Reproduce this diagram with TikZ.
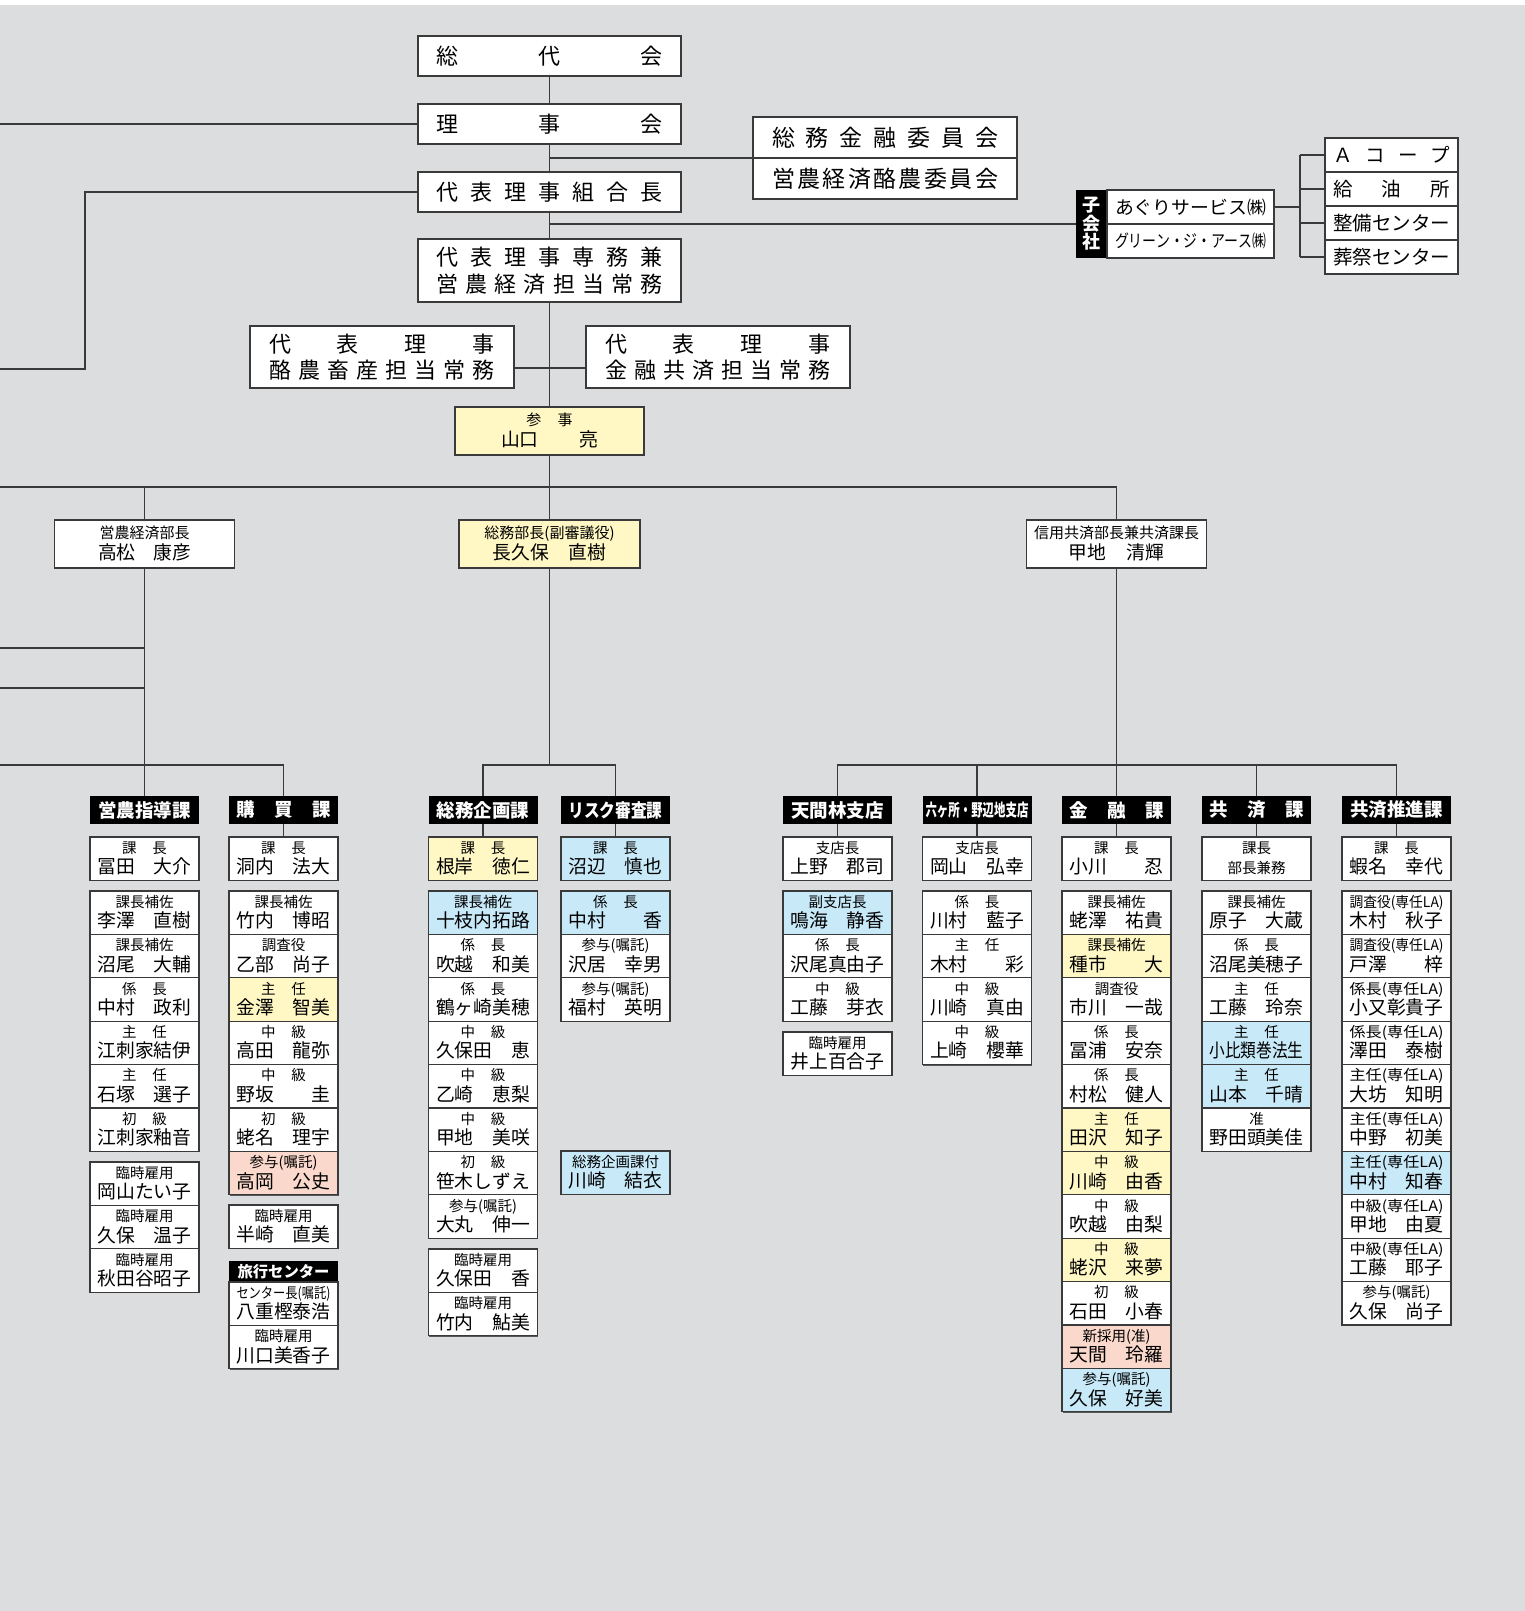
\documentclass[tikz,border=0pt]{standalone}
\usepackage{fontspec}
\usepackage{graphicx}
\setmainfont{Noto Sans CJK JP}
\usetikzlibrary{calc,shadows}
\definecolor{bg}{HTML}{DCDDDF}
\definecolor{lc}{HTML}{3A3A3A}
\definecolor{cy}{HTML}{FFF8C4}
\definecolor{cb}{HTML}{C8E9F8}
\definecolor{cp}{HTML}{FAD8CB}
\newcommand\xtf{\fontsize{14.5}{15}\selectfont}
\newcommand\xnf{\fontsize{18.8}{19}\selectfont}
\newcommand\xtpf{\fontsize{22}{22}\selectfont}
\newcommand\xhdf{\fontsize{18.5}{19}\selectfont\bfseries}
\newcommand\xsp[2]{#1\hspace{1.1em}#2}
\newcommand\xnm[2]{#1\hfill #2}
\newcommand\xone[1]{\hfil #1\hfil}
\newcommand\xsq[1]{\resizebox{94pt}{\height}{#1}}
\newcommand\xrc[2]{\vbox{\baselineskip=20.5pt\lineskiplimit=-30pt\lineskip=0pt
  \hbox to 94pt{\vrule height 12.5pt width 0pt\hfil\xtf #1\hfil}%
  \hbox to 94pt{\vrule depth 3pt width 0pt\xnf #2}}}
\newcommand\xmc[4]{\vbox{\baselineskip=21pt\lineskiplimit=-30pt\lineskip=0pt
  \hbox to #1{\vrule height 12.5pt width 0pt\hfil\fontsize{15}{15}\selectfont #2\hfil}%
  \hbox to #1{\vrule depth 3pt width 0pt\hfil\xnf\hbox to #3{#4}\hfil}}}
\def\mysprd#1{\mysprdA#1\relax}
\def\mysprdA#1{\ifx\relax#1\else#1\expandafter\mysprdC\fi}
\def\mysprdC#1{\ifx\relax#1\else\hfill#1\expandafter\mysprdC\fi}
\begin{document}
\begin{tikzpicture}[x=1pt,y=-1pt,
 conn/.style={draw=lc, line width=1.3pt},
 bx/.style={draw=lc, line width=1.3pt, fill=white, inner sep=0pt, outer sep=0pt,
   general shadow={fill=lc!85, shadow xshift=0.9pt, shadow yshift=-0.9pt}},
 tbox/.style={bx, minimum width=263pt, minimum height=40pt, font=\xtpf},
 rbox/.style={bx, minimum width=109pt, minimum height=43.4pt, anchor=north},
 hdr/.style={fill=black, text=white, inner sep=0pt, outer sep=0pt, minimum width=109pt, minimum height=28pt, anchor=north, font=\xhdf},
 mbox/.style={bx, minimum width=180pt, minimum height=48pt},
 cbox/.style={bx, minimum width=264pt, minimum height=41pt, font=\fontsize{23}{23}\selectfont},
 yel/.style={fill=cy}, blu/.style={fill=cb}, pnk/.style={fill=cp}]
\useasboundingbox (0,0) rectangle (1525,1611);
\fill[white] (0,0) rectangle (1525,1611);
\fill[bg] (0,5) rectangle (1525,1611);
% ---------- top chain
\node[tbox] (sodai) at (549.5,56) {\hbox to 226pt{\mysprd{総代会}}};
\node[tbox] (rijikai) at (549.5,124) {\hbox to 226pt{\mysprd{理事会}}};
\node[tbox] (kumiai) at (549.5,192) {\hbox to 226pt{\mysprd{代表理事組合長}}};
\node[tbox, minimum height=63pt] (senmu) at (549.5,270.5) {\vbox{\baselineskip=27pt\lineskiplimit=-30pt\hbox to 226pt{\mysprd{代表理事専務兼}}\hbox to 226pt{\mysprd{営農経済担当常務}}}};
\node[tbox, minimum width=264pt, minimum height=62pt] (rakuno) at (382,357) {\vbox{\baselineskip=26pt\lineskiplimit=-30pt\hbox to 226pt{\mysprd{代表理事}}\hbox to 226pt{\mysprd{酪農畜産担当常務}}}};
\node[tbox, minimum width=264pt, minimum height=62pt] (kinyu) at (718,357) {\vbox{\baselineskip=26pt\lineskiplimit=-30pt\hbox to 226pt{\mysprd{代表理事}}\hbox to 226pt{\mysprd{金融共済担当常務}}}};
\node[mbox, yel, minimum width=189pt] (sanji) at (549.5,431) {\xmc{180pt}{参\hspace{1.1em}事}{97pt}{\xnm{山口}{亮}}};
% committees
\node[cbox] (iin1) at (885,137.5) {\hbox to 226pt{\mysprd{総務金融委員会}}};
\node[cbox] (iin2) at (885,178.5) {\hbox to 226pt{\mysprd{営農経済酪農委員会}}};
% subsidiaries
\node[fill=black, text=white, inner sep=0pt, outer sep=0pt, minimum width=31pt, minimum height=68pt, font=\fontsize{18}{18}\selectfont\bfseries] (kog) at (1091.5,224) {\vbox{\baselineskip=18.5pt\lineskiplimit=-30pt\hbox{子}\hbox{会}\hbox{社}}};
\node[bx, minimum width=167pt, minimum height=34pt] (comp1) at (1190.5,207) {\resizebox{151pt}{\height}{\fontsize{18.5}{18.5}\selectfont あぐりサービス㈱}};
\node[bx, minimum width=167pt, minimum height=34pt] (comp2) at (1190.5,241) {\resizebox{151pt}{\height}{\fontsize{17.5}{17.5}\selectfont グリーン・ジ・アース㈱}};
\node[bx, minimum width=133pt, minimum height=34pt, font=\fontsize{19.5}{19.5}\selectfont] (rb1) at (1391.5,155) {\hbox to 117pt{\mysprd{Ａコープ}}};
\node[bx, minimum width=133pt, minimum height=34pt, font=\fontsize{19.5}{19.5}\selectfont] (rb2) at (1391.5,189) {\hbox to 117pt{\mysprd{給油所}}};
\node[bx, minimum width=133pt, minimum height=34pt, font=\fontsize{19.5}{19.5}\selectfont] (rb3) at (1391.5,223) {\hbox to 117pt{\hfil 整備センター\hfil}};
\node[bx, minimum width=133pt, minimum height=34pt, font=\fontsize{19.5}{19.5}\selectfont] (rb4) at (1391.5,257) {\hbox to 117pt{\hfil 葬祭センター\hfil}};
% department heads
\node[mbox] (eino) at (144.5,544) {\xmc{170pt}{営農経済部長}{93pt}{\xnm{高松}{康彦}}};
\node[mbox, yel, minimum width=181pt] (soumu) at (549.5,544) {\xmc{170pt}{総務部長(副審議役)}{114pt}{\xnm{長久保}{直樹}}};
\node[mbox] (shinyo) at (1116.5,544) {\xmc{170pt}{信用共済部長兼共済課長}{96pt}{\xnm{甲地}{清輝}}};
% ---------- column 1
\node[hdr] (h1) at (144.5,796) {営農指導課};
\node[rbox] (c1a) at (144.5,837) {\xrc{\xsp{課}{長}}{\xnm{冨田}{大介}}};
\node[rbox] (c1b1) at (144.5,891) {\xrc{課長補佐}{\xnm{李澤}{直樹}}};
\node[rbox] (c1b2) at (c1b1.south) {\xrc{課長補佐}{\xnm{沼尾}{大輔}}};
\node[rbox] (c1b3) at (c1b2.south) {\xrc{\xsp{係}{長}}{\xnm{中村}{政利}}};
\node[rbox] (c1b4) at (c1b3.south) {\xrc{\xsp{主}{任}}{\xone{江刺家結伊}}};
\node[rbox] (c1b5) at (c1b4.south) {\xrc{\xsp{主}{任}}{\xnm{石塚}{選子}}};
\node[rbox] (c1b6) at (c1b5.south) {\xrc{\xsp{初}{級}}{\xone{江刺家釉音}}};
\node[rbox] (c1c1) at (144.5,1162) {\xrc{臨時雇用}{\xone{岡山たい子}}};
\node[rbox] (c1c2) at (c1c1.south) {\xrc{臨時雇用}{\xnm{久保}{温子}}};
\node[rbox] (c1c3) at (c1c2.south) {\xrc{臨時雇用}{\xone{秋田谷昭子}}};
% ---------- column 2
\node[hdr] (h2) at (283.5,796) {\hbox to 94pt{\mysprd{購買課}}};
\node[rbox] (c2a) at (283.5,837) {\xrc{\xsp{課}{長}}{\xnm{洞内}{法大}}};
\node[rbox] (c2b1) at (283.5,891) {\xrc{課長補佐}{\xnm{竹内}{博昭}}};
\node[rbox] (c2b2) at (c2b1.south) {\xrc{調査役}{\xnm{乙部}{尚子}}};
\node[rbox, yel] (c2b3) at (c2b2.south) {\xrc{\xsp{主}{任}}{\xnm{金澤}{智美}}};
\node[rbox] (c2b4) at (c2b3.south) {\xrc{\xsp{中}{級}}{\xnm{高田}{龍弥}}};
\node[rbox] (c2b5) at (c2b4.south) {\xrc{\xsp{中}{級}}{\xnm{野坂}{圭}}};
\node[rbox] (c2b6) at (c2b5.south) {\xrc{\xsp{初}{級}}{\xnm{蛯名}{理宇}}};
\node[rbox, pnk] (c2b7) at (c2b6.south) {\xrc{参与(嘱託)}{\xnm{高岡}{公史}}};
\node[rbox] (c2c1) at (283.5,1205) {\xrc{臨時雇用}{\xnm{半崎}{直美}}};
\node[hdr, minimum height=21pt, font=\fontsize{15.3}{15.3}\selectfont\bfseries] (ryo) at (283.5,1261) {旅行センター};
\node[rbox] (c2d1) at (ryo.south) {\xrc{\xsq{センター長(嘱託)}}{\xone{八重樫泰浩}}};
\node[rbox] (c2d2) at (c2d1.south) {\xrc{臨時雇用}{\xone{川口美香子}}};
% ---------- column 3
\node[hdr] (h3) at (483,796) {総務企画課};
\node[rbox, yel] (c3a) at (483,837) {\xrc{\xsp{課}{長}}{\xnm{根岸}{徳仁}}};
\node[rbox, blu] (c3b1) at (483,891) {\xrc{課長補佐}{\xone{十枝内拓路}}};
\node[rbox] (c3b2) at (c3b1.south) {\xrc{\xsp{係}{長}}{\xnm{吹越}{和美}}};
\node[rbox] (c3b3) at (c3b2.south) {\xrc{\xsp{係}{長}}{\xone{鶴ヶ崎美穂}}};
\node[rbox] (c3b4) at (c3b3.south) {\xrc{\xsp{中}{級}}{\xnm{久保田}{恵}}};
\node[rbox] (c3b5) at (c3b4.south) {\xrc{\xsp{中}{級}}{\xnm{乙崎}{恵梨}}};
\node[rbox] (c3b6) at (c3b5.south) {\xrc{\xsp{中}{級}}{\xnm{甲地}{美咲}}};
\node[rbox] (c3b7) at (c3b6.south) {\xrc{\xsp{初}{級}}{\xone{笹木しずえ}}};
\node[rbox] (c3b8) at (c3b7.south) {\xrc{参与(嘱託)}{\xnm{大丸}{伸一}}};
\node[rbox] (c3c1) at (483,1249) {\xrc{臨時雇用}{\xnm{久保田}{香}}};
\node[rbox] (c3c2) at (c3c1.south) {\xrc{臨時雇用}{\xnm{竹内}{鮎美}}};
% ---------- column 4
\node[hdr] (h4) at (615.5,796) {\resizebox{94pt}{\height}{リスク審査課}};
\node[rbox, blu] (c4a) at (615.5,837) {\xrc{\xsp{課}{長}}{\xnm{沼辺}{慎也}}};
\node[rbox, blu] (c4b1) at (615.5,891) {\xrc{\xsp{係}{長}}{\xnm{中村}{香}}};
\node[rbox] (c4b2) at (c4b1.south) {\xrc{参与(嘱託)}{\xnm{沢居}{幸男}}};
\node[rbox] (c4b3) at (c4b2.south) {\xrc{参与(嘱託)}{\xnm{福村}{英明}}};
\node[rbox, blu] (c4x) at (615.5,1151) {\xrc{総務企画課付}{\xnm{川崎}{結衣}}};
% ---------- column 5
\node[hdr] (h5) at (837.5,796) {天間林支店};
\node[rbox] (c5a) at (837.5,837) {\xrc{支店長}{\xnm{上野}{郡司}}};
\node[rbox, blu] (c5b1) at (837.5,891) {\xrc{副支店長}{\xnm{鳴海}{静香}}};
\node[rbox] (c5b2) at (c5b1.south) {\xrc{\xsp{係}{長}}{\xone{沢尾真由子}}};
\node[rbox] (c5b3) at (c5b2.south) {\xrc{\xsp{中}{級}}{\xnm{工藤}{芽衣}}};
\node[rbox] (c5c1) at (837.5,1032) {\xrc{臨時雇用}{\xone{井上百合子}}};
% ---------- column 6
\node[hdr] (h6) at (977,796) {\resizebox{103pt}{\height}{\fontsize{17}{17}\selectfont 六ヶ所・野辺地支店}};
\node[rbox] (c6a) at (977,837) {\xrc{支店長}{\xnm{岡山}{弘幸}}};
\node[rbox] (c6b1) at (977,891) {\xrc{\xsp{係}{長}}{\xnm{川村}{藍子}}};
\node[rbox] (c6b2) at (c6b1.south) {\xrc{\xsp{主}{任}}{\xnm{木村}{彩}}};
\node[rbox] (c6b3) at (c6b2.south) {\xrc{\xsp{中}{級}}{\xnm{川崎}{真由}}};
\node[rbox] (c6b4) at (c6b3.south) {\xrc{\xsp{中}{級}}{\xnm{上崎}{櫻華}}};
% ---------- column 7
\node[hdr] (h7) at (1116.5,796) {\hbox to 94pt{\mysprd{金融課}}};
\node[rbox] (c7a) at (1116.5,837) {\xrc{\xsp{課}{長}}{\xnm{小川}{忍}}};
\node[rbox] (c7b1) at (1116.5,891) {\xrc{課長補佐}{\xnm{蛯澤}{祐貴}}};
\node[rbox, yel] (c7b2) at (c7b1.south) {\xrc{課長補佐}{\xnm{種市}{大}}};
\node[rbox] (c7b3) at (c7b2.south) {\xrc{調査役}{\xnm{市川}{一哉}}};
\node[rbox] (c7b4) at (c7b3.south) {\xrc{\xsp{係}{長}}{\xnm{冨浦}{安奈}}};
\node[rbox] (c7b5) at (c7b4.south) {\xrc{\xsp{係}{長}}{\xnm{村松}{健人}}};
\node[rbox, yel] (c7b6) at (c7b5.south) {\xrc{\xsp{主}{任}}{\xnm{田沢}{知子}}};
\node[rbox, yel] (c7b7) at (c7b6.south) {\xrc{\xsp{中}{級}}{\xnm{川崎}{由香}}};
\node[rbox] (c7b8) at (c7b7.south) {\xrc{\xsp{中}{級}}{\xnm{吹越}{由梨}}};
\node[rbox, yel] (c7b9) at (c7b8.south) {\xrc{\xsp{中}{級}}{\xnm{蛯沢}{来夢}}};
\node[rbox] (c7b10) at (c7b9.south) {\xrc{\xsp{初}{級}}{\xnm{石田}{小春}}};
\node[rbox, pnk] (c7b11) at (c7b10.south) {\xrc{新採用(准)}{\xnm{天間}{玲羅}}};
\node[rbox, blu] (c7b12) at (c7b11.south) {\xrc{参与(嘱託)}{\xnm{久保}{好美}}};
% ---------- column 8
\node[hdr] (h8) at (1256.5,796) {\hbox to 94pt{\mysprd{共済課}}};
\node[rbox] (c8a) at (1256.5,837) {\xrc{課長}{\hfil\xtf 部長兼務\hfil}};
\node[rbox] (c8b1) at (1256.5,891) {\xrc{課長補佐}{\xnm{原子}{大蔵}}};
\node[rbox] (c8b2) at (c8b1.south) {\xrc{\xsp{係}{長}}{\xone{沼尾美穂子}}};
\node[rbox] (c8b3) at (c8b2.south) {\xrc{\xsp{主}{任}}{\xnm{工藤}{玲奈}}};
\node[rbox, blu] (c8b4) at (c8b3.south) {\xrc{\xsp{主}{任}}{\xone{\xsq{小比類巻法生}}}};
\node[rbox, blu] (c8b5) at (c8b4.south) {\xrc{\xsp{主}{任}}{\xnm{山本}{千晴}}};
\node[rbox] (c8b6) at (c8b5.south) {\xrc{准}{\xone{野田頭美佳}}};
% ---------- column 9
\node[hdr] (h9) at (1396.5,796) {共済推進課};
\node[rbox] (c9a) at (1396.5,837) {\xrc{\xsp{課}{長}}{\xnm{蝦名}{幸代}}};
\node[rbox] (c9b1) at (1396.5,891) {\xrc{\xsq{調査役(専任LA)}}{\xnm{木村}{秋子}}};
\node[rbox] (c9b2) at (c9b1.south) {\xrc{\xsq{調査役(専任LA)}}{\xnm{戸澤}{梓}}};
\node[rbox] (c9b3) at (c9b2.south) {\xrc{\xsq{係長(専任LA)}}{\xone{小又彰貴子}}};
\node[rbox] (c9b4) at (c9b3.south) {\xrc{\xsq{係長(専任LA)}}{\xnm{澤田}{泰樹}}};
\node[rbox] (c9b5) at (c9b4.south) {\xrc{\xsq{主任(専任LA)}}{\xnm{大坊}{知明}}};
\node[rbox] (c9b6) at (c9b5.south) {\xrc{\xsq{主任(専任LA)}}{\xnm{中野}{初美}}};
\node[rbox, blu] (c9b7) at (c9b6.south) {\xrc{\xsq{主任(専任LA)}}{\xnm{中村}{知春}}};
\node[rbox] (c9b8) at (c9b7.south) {\xrc{\xsq{中級(専任LA)}}{\xnm{甲地}{由夏}}};
\node[rbox] (c9b9) at (c9b8.south) {\xrc{\xsq{中級(専任LA)}}{\xnm{工藤}{耶子}}};
\node[rbox] (c9b10) at (c9b9.south) {\xrc{参与(嘱託)}{\xnm{久保}{尚子}}};
% ---------- free ends
\coordinate (Lrij) at (0,124);
\coordinate (Kc) at (85,369);
\coordinate (Lkum) at (0,369);
\coordinate (B0) at (0,487);
\coordinate (E1) at (0,648);
\coordinate (E2) at (0,688);
\coordinate (E3) at (0,765);
\coordinate (brk) at (1300,207);
% ---------- connectors
\draw[conn] (sodai.south) -- (rijikai.north);
\draw[conn] (rijikai.south) -- (kumiai.north);
\draw[conn] (kumiai.south) -- (senmu.north);
\draw[conn] (senmu.south) -- (sanji.north);
\draw[conn] (sanji.south) -- (soumu.north);
\draw[conn] (iin1.south west) -- (iin1.south west -| senmu.north);
\draw[conn] (kog.west) -- (kog.west -| senmu.north);
\draw[conn] ([yshift=-11pt]rakuno.east) -- ([yshift=-11pt]kinyu.west);
\draw[conn] (rijikai.west) -- (Lrij);
\draw[conn] (kumiai.west) -| (Kc) -- (Lkum);
\draw[conn] (comp1.east) -- (comp1.east -| brk);
\draw[conn] (rb1.west -| brk) -- (rb4.west -| brk);
\foreach \i in {1,2,3,4} \draw[conn] (rb\i.west -| brk) -- (rb\i.west);
\draw[conn] (B0) -- (B0 -| shinyo.north) -- (shinyo.north);
\draw[conn] (B0 -| eino.north) -- (eino.north);
\draw[conn] (eino.south) -- (h1.north);
\draw[conn] (E1) -- (E1 -| eino.south);
\draw[conn] (E2) -- (E2 -| eino.south);
\draw[conn] (E3) -| (h2.north);
\draw[conn] (soumu.south) -- (E3 -| soumu.south);
\draw[conn] (h3.north) |- (E3 -| soumu.south) -| (h4.north);
\draw[conn] (shinyo.south) -- (E3 -| shinyo.south);
\draw[conn] (h5.north) |- (E3 -| h9.north) -- (h9.north);
\draw[conn] (h6.north) -- (E3 -| h6.north);
\draw[conn] (h7.north) -- (E3 -| h7.north);
\draw[conn] (h8.north) -- (E3 -| h8.north);
\foreach \c in {2,3,4,5,6,7,8,9} \draw[conn] (h\c.south) -- (c\c a.north);
\end{tikzpicture}
\end{document}
